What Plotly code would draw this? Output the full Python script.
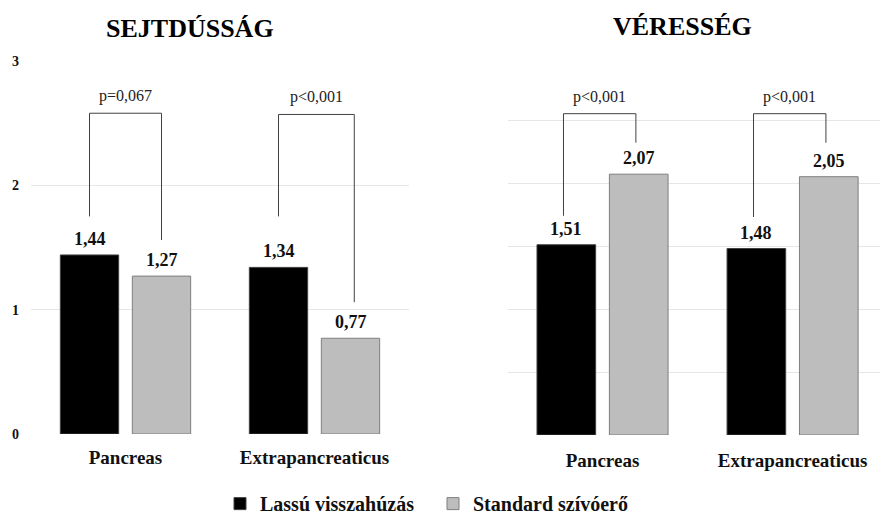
import plotly.graph_objects as go

categories = ["Pancreas", "Extrapancreaticus"]
series_names = ["Lassú visszahúzás", "Standard szívóerő"]

sejt_lassu = [1.44, 1.34]
sejt_standard = [1.27, 0.77]
veres_lassu = [1.51, 1.48]
veres_standard = [2.07, 2.05]

sejt_p = ["p=0,067", "p<0,001"]
veres_p = ["p<0,001", "p<0,001"]
# bracket levels: top, left-leg bottom, right-leg bottom
sejt_br_top = [2.58, 2.57]
sejt_br_left = [1.75, 1.75]
sejt_br_right = [1.56, 1.06]
veres_br_top = [2.55, 2.55]
veres_br_left = [1.74, 1.73]
veres_br_right = [2.32, 2.32]

y_ticks = [0, 1, 2, 3]
y_tick_labels = ["0", "1", "2", "3"]

FONT = "'Liberation Serif', 'Times New Roman', serif"
BLACK = "#000000"
GRAY = "#bdbdbd"
BARGAP = 0.238
GROUPGAP = 0.19
slot = (1 - BARGAP) / 2
off = slot / 2

fig = go.Figure()
for xa, ya, vals_l, vals_s, show in [("x", "y", sejt_lassu, sejt_standard, True),
                                      ("x2", "y2", veres_lassu, veres_standard, False)]:
    fig.add_trace(go.Bar(x=categories, y=vals_l, name=series_names[0], xaxis=xa, yaxis=ya,
                         marker=dict(color=BLACK, line=dict(color="#404040", width=1)),
                         showlegend=show, legendgroup="a"))
    fig.add_trace(go.Bar(x=categories, y=vals_s, name=series_names[1], xaxis=xa, yaxis=ya,
                         marker=dict(color=GRAY, line=dict(color="#7f7f7f", width=1)),
                         showlegend=show, legendgroup="b"))

def fmt(v):
    return f"{v:.2f}".replace(".", ",")

annotations = []
shapes = []
for xr, yr, vl, vs, ptxt, top, bl, brr, lsh, rsh in [
        ("x", "y", sejt_lassu, sejt_standard, sejt_p, sejt_br_top, sejt_br_left, sejt_br_right, [0, 0], [0, 0.02]),
        ("x2", "y2", veres_lassu, veres_standard, veres_p, veres_br_top, veres_br_left, veres_br_right, [-0.015, -0.015], [-0.015, -0.015])]:
    for i in range(len(categories)):
        for v, o in [(vl[i], -off), (vs[i], off)]:
            annotations.append(dict(x=i + o, y=v, xref=xr, yref=yr, text=fmt(v), showarrow=False,
                                    yanchor="bottom", yshift=4,
                                    font=dict(family=FONT, size=18, color="#111", weight="bold")))
        x0 = i - off + lsh[i]
        x1 = i + off + rsh[i]
        line = dict(color="#404040", width=1)
        shapes.append(dict(type="line", xref=xr, yref=yr, x0=x0, x1=x0, y0=bl[i], y1=top[i], line=line))
        shapes.append(dict(type="line", xref=xr, yref=yr, x0=x0, x1=x1, y0=top[i], y1=top[i], line=line))
        shapes.append(dict(type="line", xref=xr, yref=yr, x0=x1, x1=x1, y0=top[i], y1=brr[i], line=line))
        annotations.append(dict(x=(x0 + x1) / 2, y=top[i], xref=xr, yref=yr, text=ptxt[i], showarrow=False,
                                yanchor="bottom", yshift=6,
                                font=dict(family=FONT, size=16, color="#222")))

annotations.append(dict(x=190 / 880, y=1 - 28 / 520, xref="paper", yref="paper", text="SEJTDÚSSÁG",
                        showarrow=False, xanchor="center", yanchor="middle",
                        font=dict(family=FONT, size=26, color="#000", weight="bold")))
annotations.append(dict(x=682 / 880, y=1 - 26 / 520, xref="paper", yref="paper", text="VÉRESSÉG",
                        showarrow=False, xanchor="center", yanchor="middle",
                        font=dict(family=FONT, size=26, color="#000", weight="bold")))

grid = "#e6e6e6"
axis_font = dict(family=FONT, size=19, color="#111", weight="bold")
fig.update_layout(
    width=880, height=520,
    margin=dict(l=0, r=0, t=0, b=0, autoexpand=False),
    font=dict(family=FONT),
    paper_bgcolor="white", plot_bgcolor="white",
    barmode="group", bargap=BARGAP, bargroupgap=GROUPGAP,
    xaxis=dict(domain=[31 / 880, 409 / 880], range=[-0.5, 1.5], showgrid=False, showline=False,
               tickfont=axis_font, ticks="", ticklabelstandoff=10, anchor="y", automargin=False),
    yaxis=dict(domain=[(520 - 434) / 520, (520 - 61) / 520], range=[0, 3], tickvals=y_ticks,
               ticktext=y_tick_labels, showgrid=True, gridcolor=grid, zeroline=False,
               tickfont=dict(family=FONT, size=14, color="#111", weight="bold"), ticklabelstandoff=11,
               anchor="x", automargin=False),
    xaxis2=dict(domain=[507.5 / 880, 1.0], range=[-0.5, 1.46], showgrid=False, showline=False,
                tickfont=axis_font, ticks="", ticklabelstandoff=12, anchor="y2", automargin=False),
    yaxis2=dict(domain=[(520 - 435) / 520, (520 - 57) / 520], range=[0, 3], dtick=0.5,
                showticklabels=False, showgrid=True, gridcolor=grid, zeroline=False, anchor="x2",
                automargin=False),
    legend=dict(orientation="h", x=0.25, y=-0.006, xanchor="left", yanchor="bottom",
                font=dict(family=FONT, size=20, color="#111", weight="bold"),
                traceorder="normal", itemwidth=30, entrywidth=168, entrywidthmode="pixels"),
    annotations=annotations, shapes=shapes,
)
fig.write_html("out.html", post_script="document.body.style.margin='0px';",
               config={"displayModeBar": False})
